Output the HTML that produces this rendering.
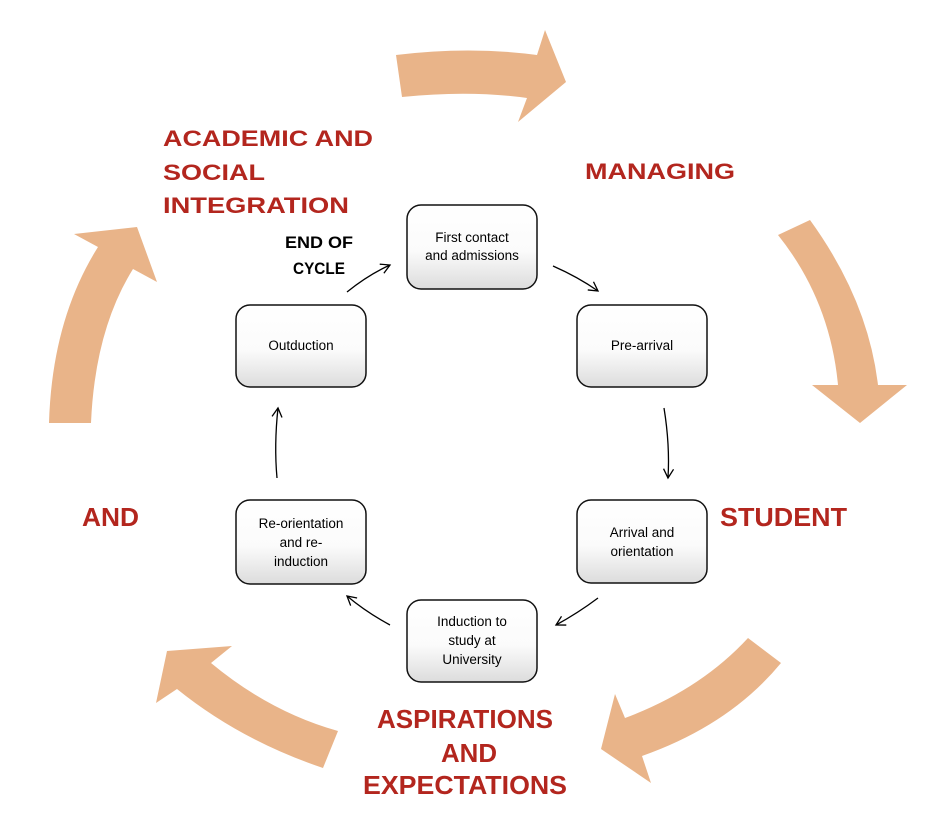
<!DOCTYPE html>
<html><head><meta charset="utf-8"><style>
html,body{margin:0;padding:0;background:#fff;}
svg{display:block;}
.r{fill:#b3261e;font-family:"Liberation Sans",sans-serif;font-weight:bold;}
.b{fill:#000;font-family:"Liberation Sans",sans-serif;font-size:13.5px;text-anchor:middle;}
.k{fill:#000;font-family:"Liberation Sans",sans-serif;font-weight:bold;font-size:17px;}
</style></head><body>
<svg width="930" height="828" viewBox="0 0 930 828" xmlns="http://www.w3.org/2000/svg">
<defs>
<linearGradient id="g" x1="0" y1="0" x2="0" y2="1">
<stop offset="0" stop-color="#fff"/><stop offset="0.55" stop-color="#fbfbfb"/><stop offset="1" stop-color="#dcdcdc"/>
</linearGradient>
<marker id="a" markerWidth="12" markerHeight="12" refX="10" refY="6" orient="auto" markerUnits="userSpaceOnUse">
<path d="M1,1 L10,6 L1,11" fill="none" stroke="#000" stroke-width="1.3"/>
</marker>
</defs>
<g fill="#e9b489">
<!-- top arrow -->
<path d="M396,55 Q470,46 537,55 L545,30 L566,82 L518,122 L527,98 Q470,90 402,97 Z"/>
<!-- right arrow -->
<path d="M778,235 L810,220 Q868,300 878,385 L907,385 L860,423 L812,385 L838,385 Q830,300 778,235 Z"/>
<!-- bottom-right arrow -->
<path d="M748,638 L781,663 Q730,725 642,756 L651,783 L601,749 L615,694 L625,718 Q700,690 748,638 Z"/>
<!-- bottom-left arrow -->
<path d="M338,731 L323,768 Q240,740 177,689 L156,703 L167,651 L232,646 L211,663 Q270,712 338,731 Z"/>
<!-- left arrow -->
<path d="M49,423 Q52,320 98,247 L74,234 L137,227 L157,282 L133,269 Q95,330 91,423 Z"/>
</g>

<g stroke="#111" stroke-width="1.5" fill="url(#g)">
<rect x="407" y="205" width="130" height="84" rx="14"/>
<rect x="577" y="305" width="130" height="82" rx="14"/>
<rect x="577" y="500" width="130" height="83" rx="14"/>
<rect x="407" y="600" width="130" height="82" rx="14"/>
<rect x="236" y="500" width="130" height="84" rx="14"/>
<rect x="236" y="305" width="130" height="82" rx="14"/>
</g>

<g class="b">
<text x="472" y="242">First contact</text>
<text x="472" y="260">and admissions</text>
<text x="642" y="350">Pre-arrival</text>
<text x="642" y="537">Arrival and</text>
<text x="642" y="556">orientation</text>
<text x="472" y="626">Induction to</text>
<text x="472" y="645">study at</text>
<text x="472" y="664">University</text>
<text x="301" y="528">Re-orientation</text>
<text x="301" y="547">and re-</text>
<text x="301" y="566">induction</text>
<text x="301" y="350">Outduction</text>
</g>

<g fill="none" stroke="#000" stroke-width="1.3" marker-end="url(#a)">
<path d="M347,292 Q368,275 390,265"/>
<path d="M553,266 Q578,277 598,291"/>
<path d="M664,408 Q670,445 668,478"/>
<path d="M598,598 Q578,613 556,625"/>
<path d="M390,625 Q366,612 347,596"/>
<path d="M277,478 Q274,445 278,408"/>
</g>

<text class="k" x="285" y="248" textLength="68" lengthAdjust="spacingAndGlyphs">END OF</text>
<text class="k" x="293" y="274" textLength="52" lengthAdjust="spacingAndGlyphs">CYCLE</text>

<g class="r" font-size="22">
<text x="163" y="146" textLength="210" lengthAdjust="spacingAndGlyphs">ACADEMIC AND</text>
<text x="163" y="180" textLength="102" lengthAdjust="spacingAndGlyphs">SOCIAL</text>
<text x="163" y="213" textLength="186" lengthAdjust="spacingAndGlyphs">INTEGRATION</text>
<text x="585" y="179" textLength="150" lengthAdjust="spacingAndGlyphs">MANAGING</text>
</g>
<g class="r" font-size="26">
<text x="720" y="526" textLength="127" lengthAdjust="spacingAndGlyphs">STUDENT</text>
<text x="82" y="526" textLength="57" lengthAdjust="spacingAndGlyphs">AND</text>
<text x="377" y="728" textLength="176" lengthAdjust="spacingAndGlyphs">ASPIRATIONS</text>
<text x="441" y="762" textLength="56" lengthAdjust="spacingAndGlyphs">AND</text>
<text x="363" y="794" textLength="204" lengthAdjust="spacingAndGlyphs">EXPECTATIONS</text>
</g>
</svg>
</body></html>
